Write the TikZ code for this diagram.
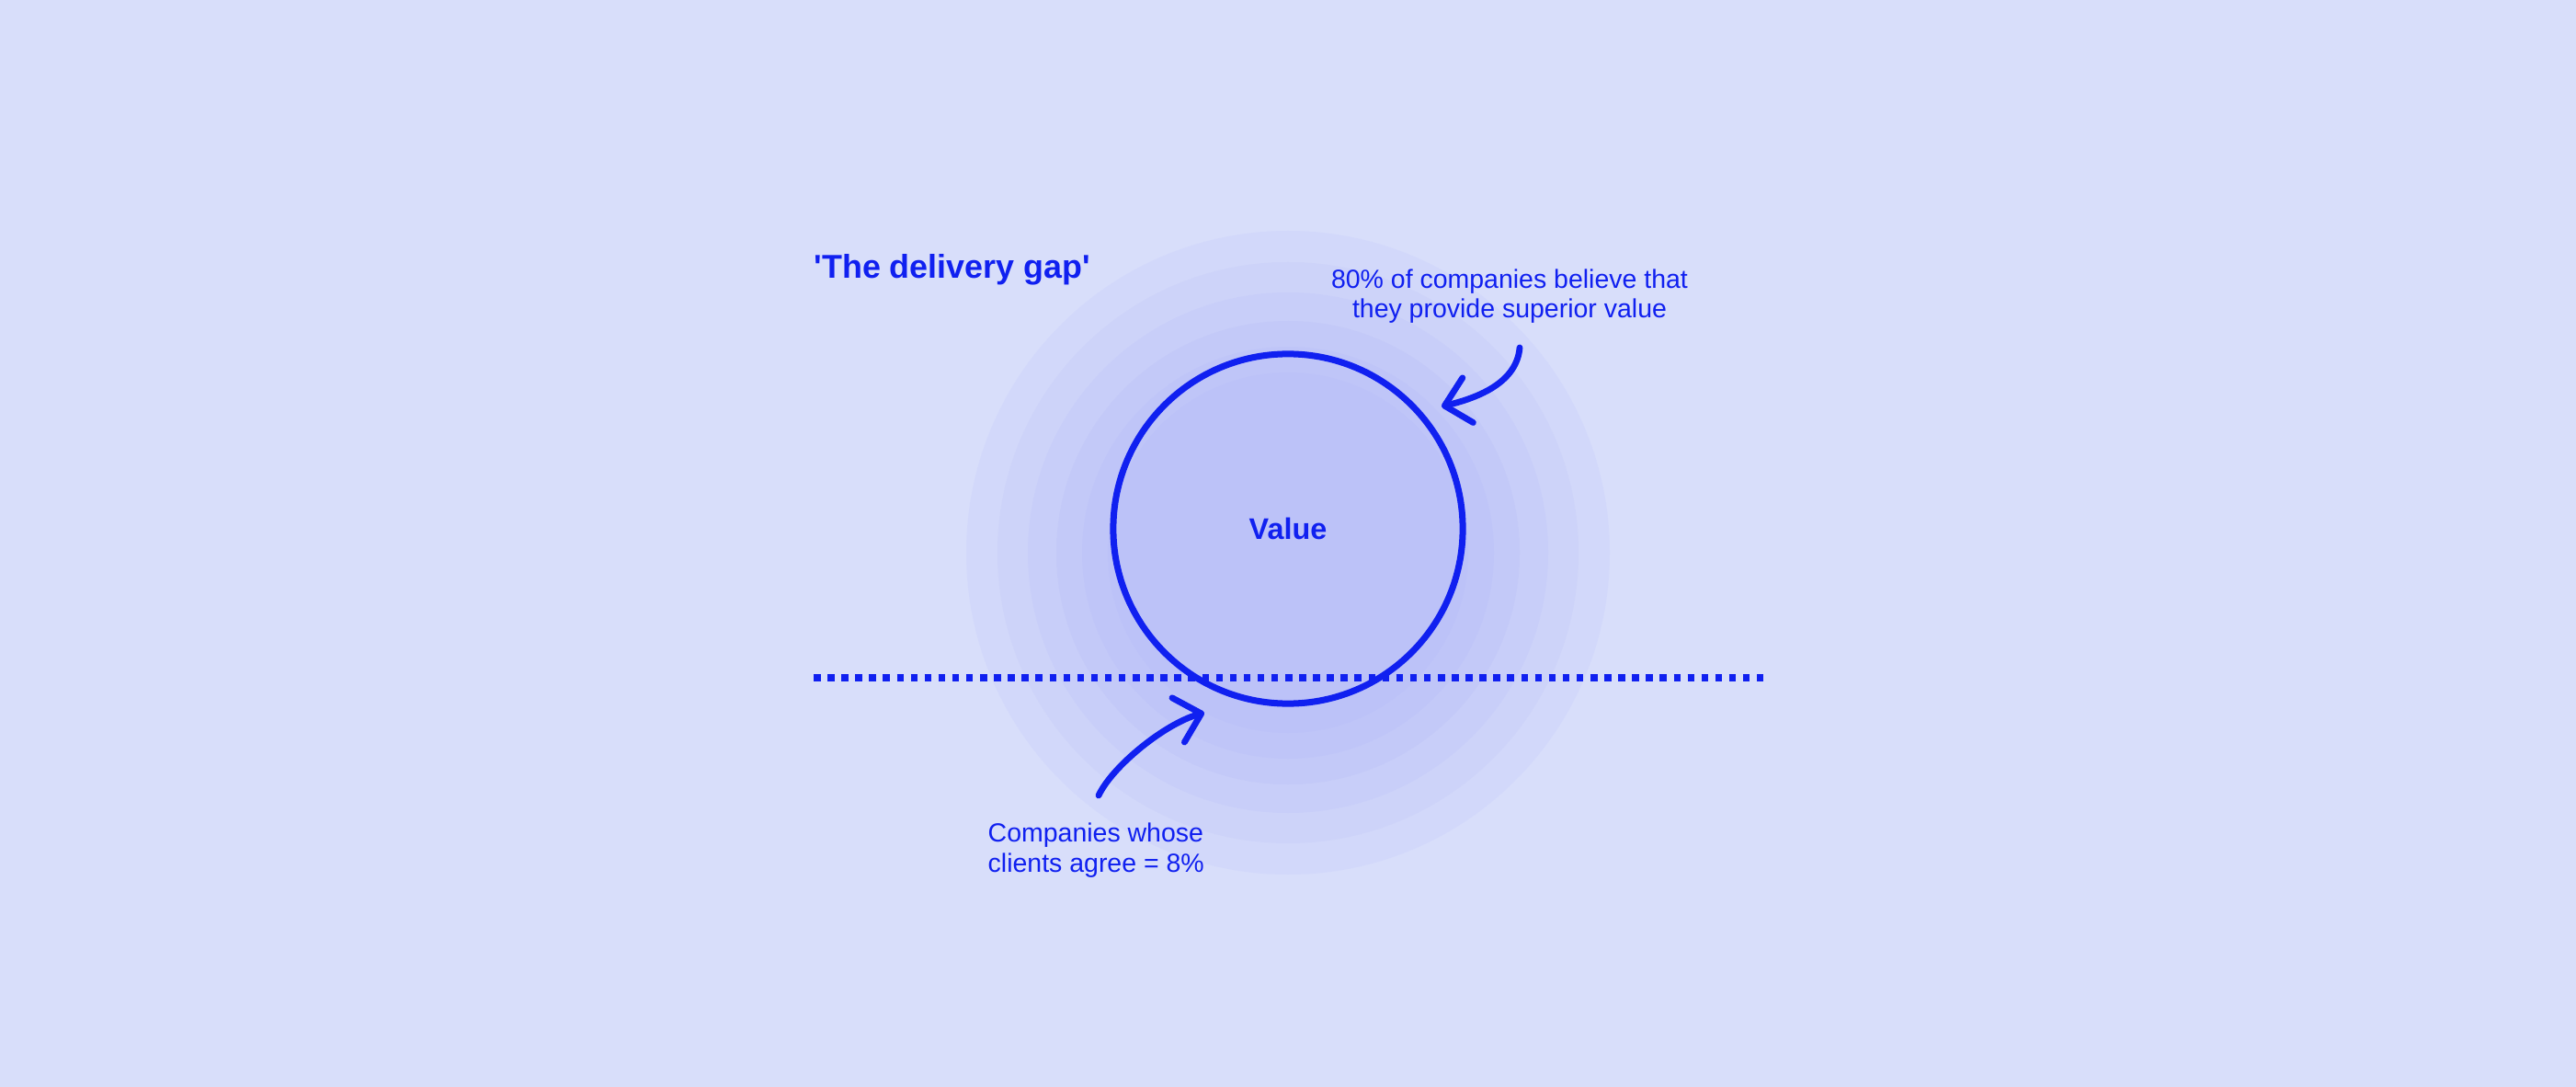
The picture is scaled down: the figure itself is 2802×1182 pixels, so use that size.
\documentclass[tikz,border=0pt]{standalone}
\usepackage{fontspec}
\newfontfamily\inter{Liberation Sans}
\usetikzlibrary{arrows.meta}
\definecolor{bgblue}{RGB}{216,222,250}
\definecolor{inkblue}{RGB}{16,32,240}
\definecolor{glowA}{RGB}{210,216,250}
\definecolor{glowB}{RGB}{205,211,249}
\definecolor{glowC}{RGB}{200,206,249}
\definecolor{glowD}{RGB}{195,201,248}
\definecolor{glowE}{RGB}{191,197,248}
\definecolor{glowF}{RGB}{188,194,248}
\begin{document}
\begin{tikzpicture}[x=0.01cm,y=-0.01cm,
  note/.style={text=inkblue,inner sep=0pt,font=\inter\fontsize{8.1}{9.3}\selectfont},
  pointer/.style={draw=inkblue,line width=0.068cm,line cap=round,-{Straight Barb[length=0.26cm,width=0.5cm,round]}}]
% background
\fill[bgblue] (0,0) rectangle (2802,1182);
\useasboundingbox (0,0) rectangle (2802,1182);
% glow rings
\foreach \r/\c in {350/glowA,316/glowB,283/glowC,252/glowD,224/glowE,196/glowF}
  \fill[\c] (1401,601) circle[radius=\r];
% gap line
\coordinate (gapL) at (885,737);
\coordinate (gapR) at (1918,737);
\draw[inkblue,line width=0.08cm,dash pattern=on 0.075cm off 0.0758cm] (gapL) -- (gapR);
% value circle
\node[circle,draw=inkblue,line width=0.07cm,minimum size=3.8cm,inner sep=0pt,text=inkblue,font=\inter\fontsize{9.2}{11}\selectfont\bfseries] (value) at (1401,575) {Value};
% labels
\node[note,font=\inter\fontsize{10.2}{12}\selectfont\bfseries,anchor=base west] (title) at (885,302) {'The delivery gap'};
\node[note,align=center,anchor=base] (believe) at (1642,346) {80\% of companies believe that\\they provide superior value};
\node[note,align=left,anchor=base west] (agree) at (1074,948) {Companies whose\\clients agree = 8\%};
% arrows
\coordinate (believeS) at (1653,378);
\coordinate (believeT) at (1568,442);
\coordinate (agreeS) at (1195,865);
\coordinate (agreeT) at (1310,775);
\draw[pointer] (believeS) .. controls (1650,415) and (1610,432) .. (believeT);
\draw[pointer] (agreeS) .. controls (1210,833) and (1267,787) .. (agreeT);
\end{tikzpicture}
\end{document}
